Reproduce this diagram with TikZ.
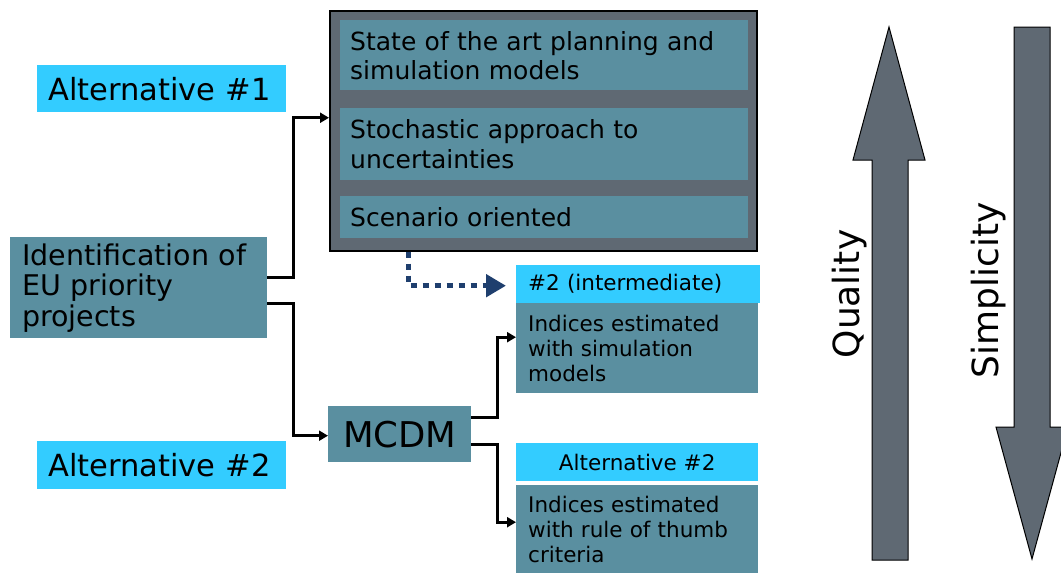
\documentclass[tikz,border=0pt]{standalone}
\usepackage{fontspec}
\setmainfont{DejaVu Sans}
\usetikzlibrary{arrows.meta}
\definecolor{tealc}{RGB}{90,143,160}
\definecolor{cyanc}{RGB}{51,204,255}
\definecolor{darkc}{RGB}{95,105,115}
\definecolor{dotc}{RGB}{31,63,110}
\begin{document}
\begin{tikzpicture}[x=1pt,y=-1pt,
  tbox/.style={fill=tealc, anchor=north west, align=left, inner ysep=0pt, inner xsep=10pt, text=black},
  cbox/.style={fill=cyanc, anchor=north west, align=left, inner ysep=0pt, inner xsep=11pt, text=black},
  conn/.style={line width=3pt, -{Triangle[length=9pt,width=10pt]}},
  bigarrow/.style={fill=darkc, draw=black, line width=1pt, line join=miter},
]
\useasboundingbox (0,0) rectangle (1061,573);

% left side
\node[cbox, text width=227pt, minimum height=47pt, font=\fontsize{30.5}{34}\selectfont] (alt1) at (37,65) {Alternative \#1};
\node[cbox, text width=227pt, minimum height=48pt, font=\fontsize{30.5}{34}\selectfont] (alt2) at (37,441) {Alternative \#2};
\node[tbox, inner xsep=12pt, text width=233pt, minimum height=101pt, font=\fontsize{28.5}{30.5}\selectfont] (ident) at (10,237) {Identification of\\EU priority\\projects};

% big box
\node[draw=black, line width=1.5pt, fill=darkc, anchor=north west, minimum width=427pt, minimum height=240pt, inner sep=0pt] (big) at (329,10) {};
\node[tbox, text width=388pt, minimum height=70pt, font=\fontsize{25}{29}\selectfont] (s1) at (340,20) {State of the art planning and\\simulation models};
\node[tbox, text width=388pt, minimum height=72pt, font=\fontsize{25}{30}\selectfont] (s2) at (340,108) {Stochastic approach to\\uncertainties};
\node[tbox, text width=388pt, minimum height=42pt, font=\fontsize{25}{29}\selectfont] (s3) at (340,196) {Scenario oriented};

% MCDM
\node[tbox, align=center, inner xsep=0pt, minimum width=143pt, minimum height=56pt, font=\fontsize{35.5}{40}\selectfont] (mcdm) at (328,406) {MCDM};

% right column
\node[cbox, text width=220pt, inner xsep=12pt, minimum height=38pt, font=\fontsize{21.5}{25}\selectfont] (hdr1) at (516,265) {\#2 (intermediate)};
\node[tbox, text width=218pt, inner xsep=12pt, minimum height=90pt, font=\fontsize{21.5}{25}\selectfont] (ind1) at (516,303) {Indices estimated\\with simulation\\models};
\node[cbox, align=center, inner xsep=0pt, minimum width=242pt, minimum height=38pt, font=\fontsize{21.5}{25}\selectfont] (hdr2) at (516,443) {Alternative \#2};
\node[tbox, text width=218pt, inner xsep=12pt, minimum height=88pt, font=\fontsize{21.5}{25}\selectfont] (ind2) at (516,485) {Indices estimated\\with rule of thumb\\criteria};

% connectors
\draw[conn] ([yshift=10.5pt]ident.east) -- ++(26,0) |- ([yshift=13pt]big.west);
\draw[conn] ([yshift=-15.5pt]ident.east) -- ++(26,0) |- ([yshift=-1.5pt]mcdm.west);
\draw[conn] ([yshift=16.5pt]mcdm.east) -- ++(26,0) |- ([yshift=11pt]ind1.west);
\draw[conn] ([yshift=-10.5pt]mcdm.east) -- ++(26,0) |- ([yshift=7pt]ind2.west);
\draw[dotc, line width=5pt, dash pattern=on 6pt off 6pt, -{Triangle[length=20pt,width=22pt]}]
  ([xshift=-134.5pt]big.south) |- ([xshift=-10pt,yshift=-1.5pt]hdr1.west);

% big arrows
\draw[bigarrow] (872,560) -- (872,160) -- (853,160) -- (889,27) -- (925,160) -- (908,160) -- (908,560) -- cycle;
\draw[bigarrow] (1014,27) -- (1014,427) -- (996,427) -- (1032,559) -- (1068,427) -- (1050,427) -- (1050,27) -- cycle;
\node[rotate=90, font=\fontsize{36}{40}\selectfont, inner sep=0pt] (qual) at (850,294) {Quality};
\node[rotate=90, font=\fontsize{36}{40}\selectfont, inner sep=0pt] (simp) at (989,290) {Simplicity};
\end{tikzpicture}
\end{document}
